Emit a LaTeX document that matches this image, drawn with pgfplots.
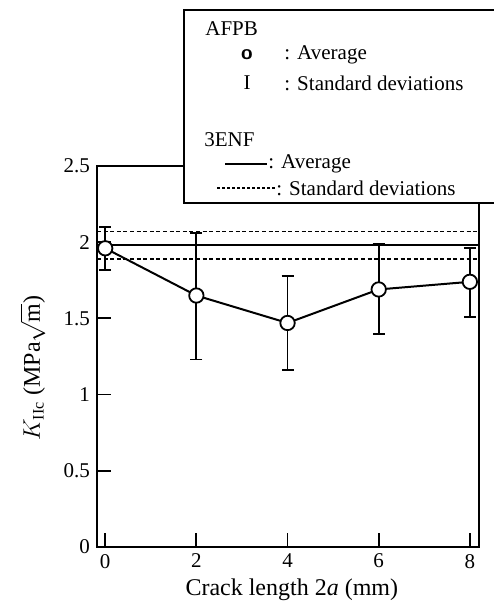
\documentclass[border=0pt]{standalone}
\usepackage{pgfplots}
\pgfplotsset{compat=1.18}
\usepackage{fontspec}
\setmainfont{Liberation Serif}
\begin{document}
\begin{tikzpicture}[x=1pt,y=1pt]
\useasboundingbox (0,0) rectangle (246.5,302);
\begin{axis}[
  at={(48.5pt,28.5pt)}, anchor=south west,
  scale only axis, width=191pt, height=190.5pt,
  xmin=-0.18, xmax=8.2, ymin=0, ymax=2.5,
  xtick={0,2,4,6,8}, ytick={0,0.5,1,1.5,2,2.5},
  yticklabels={0,0.5,1,1.5,2,2.5},
  tick align=inside, xtick pos=bottom, ytick pos=left,
  major tick length=7pt,
  axis line style={line width=1pt},
  every tick/.style={line width=0.9pt, black},
  /pgf/number format/assume math mode=true,
  ticklabel style={font=\fontsize{10.5}{12}\selectfont},
  xlabel={Crack length 2\textit{a} (mm)},
  ylabel={$K_{\mathrm{IIc}}$ (MPa$\sqrt{\mathrm{m}}$)},
  label style={font=\fontsize{12}{14}\selectfont},
  xlabel style={at={(rel axis cs:0.51,-0.113)}, anchor=center},
  ylabel style={at={(rel axis cs:-0.168,0.47)}, anchor=center},
  clip=false,
]
% 3ENF average and standard deviations
\addplot[black, line width=0.8pt] coordinates {(-0.18,1.98) (8.2,1.98)};
\addplot[black, line width=0.8pt, dash pattern=on 2pt off 1.3pt] coordinates {(-0.18,2.07) (8.2,2.07)};
\addplot[black, line width=0.8pt, dash pattern=on 2pt off 1.3pt] coordinates {(-0.18,1.89) (8.2,1.89)};
% AFPB
\addplot[black, line width=1pt, mark=*, mark size=3.6pt,
  mark options={fill=white, line width=0.9pt},
  error bars/.cd, y dir=both, y explicit,
  error bar style={line width=0.9pt},
  error mark options={rotate=90, mark size=3pt, line width=0.9pt}]
coordinates {
 (0,1.96) += (0,0.14) -= (0,0.14)
 (2,1.65) += (0,0.41) -= (0,0.42)
 (4,1.47) += (0,0.31) -= (0,0.31)
 (6,1.69) += (0,0.30) -= (0,0.29)
 (8,1.74) += (0,0.22) -= (0,0.23)
};
\end{axis}
% legend box
\fill[white] (92,200.5) rectangle (260,297);
\draw[line width=1pt] (260,297) -- (92,297) -- (92,200.5) -- (260,200.5);
\begin{scope}[every node/.style={font=\fontsize{10.5}{12}\selectfont, inner sep=0pt}]
\node[anchor=west] at (102.5,287.5) {AFPB};
\node at (123.5,274.5) {\sffamily\bfseries o};
\node[anchor=west] at (142,274.5) {: Average};
\node at (123.5,260.5) {I};
\node[anchor=west] at (142,260.5) {: Standard deviations};
\node[anchor=west] at (102,232) {3ENF};
\draw[line width=0.9pt] (112.5,220) -- (133.5,220);
\node[anchor=west] at (134,220) {: Average};
\draw[line width=0.7pt, dash pattern=on 1.3pt off 1.2pt] (108.5,208) -- (137.5,208);
\node[anchor=west] at (138,208) {: Standard deviations};
\end{scope}
\end{tikzpicture}
\end{document}
